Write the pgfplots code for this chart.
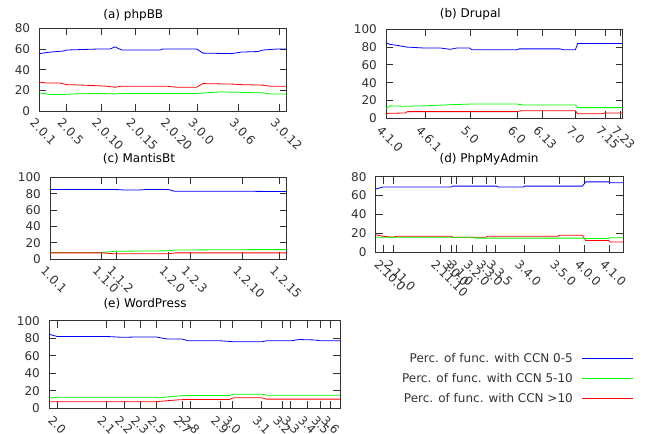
\documentclass[border=0pt]{standalone}
\usepackage{fontspec}
\setmainfont{DejaVu Sans}
\usepackage{pgfplots}
\pgfplotsset{compat=1.18}
\definecolor{axgray}{RGB}{50,50,50}
\definecolor{pblue}{RGB}{0,0,255}
\definecolor{pgreen}{RGB}{0,255,0}
\definecolor{pred}{RGB}{255,0,0}
\pgfplotsset{
  panel/.style={
    scale only axis,
    axis line style={axgray, line width=0.9pt},
    tick style={axgray, line width=0.8pt},
    tick align=inside,
    major tick length=7pt,
    ymin=0,
    xticklabel style={rotate=-45, anchor=north west, xshift=-2pt, yshift=-3pt, text=axgray},
    yticklabel style={xshift=-5pt, text=axgray},
    /pgf/number format/assume math mode=true,
    every axis plot/.append style={line width=0.8pt, mark=none},
    title style={anchor=base, text=black},
  }
}
\begin{document}
\fontsize{12}{14}\selectfont
\begin{tikzpicture}[x=1pt,y=1pt]
\useasboundingbox (0,0) rectangle (651,434);

% (a) phpBB
\begin{axis}[panel, at={(39.3pt,323pt)}, anchor=south west, width=247.4pt, height=82.7pt,
  xmin=0, xmax=36, ymax=80, ytick={0,20,40,60,80},
  xtick={0,4,9,14,19,23,29,35},
  xticklabels={2.0.1,2.0.5,2.0.10,2.0.15,2.0.20,3.0.0,3.0.6,3.0.12},
  title={(a) phpBB}, title style={at={(0.38,1)}, yshift=4pt}]
\addplot[pblue] coordinates {(0,55.5)(1.6,57)(3.5,58)(4,59)(8.8,60)(10.3,60)(11,62)(12,59)(17.6,59)(18,60)(22.9,60)(23.8,56)(28,55.5)(29.4,57)(31.8,57.5)(32.6,59)(34.7,60)(36,60)};
\addplot[pred] coordinates {(0,28)(1.1,27)(3,27)(4,25.5)(6.4,25)(9.8,24)(11,23)(12,24)(18.5,24)(20,23)(22.9,23)(23.8,26.5)(28.2,26)(29.4,25.5)(32.6,25)(33.6,24)(36,24)};
\addplot[pgreen] coordinates {(0,17.5)(1.6,16)(3.5,16)(5,16.5)(8.8,17)(11,16.5)(12,17)(23,17)(25.3,18)(26.3,18.5)(29.4,18)(32.6,17.5)(33.6,16.5)(36,16.5)};
\end{axis}

% (b) Drupal
\begin{axis}[panel, at={(386pt,315.7pt)}, anchor=south west, width=236.7pt, height=89pt,
  xmin=0, xmax=121, ymax=100, ytick={0,20,40,60,80,100},
  xtick={0,20,43,67,80,97,112,120},
  xticklabels={4.1.0,4.6.1,5.0,6.0,6.13,7.0,7.15,7.23},
  title={(b) Drupal}, title style={at={(0.356,1)}, yshift=6pt}]
\addplot[pblue] coordinates {(0,85)(2,83)(5.5,82)(10.6,80)(19.2,79)(27.7,79)(32.8,77.5)(36.3,79)(42.7,79)(43.9,77)(67,77)(68,78)(89,78)(90.8,77)(96.8,77)(98,84)(121,84)};
\addplot[pgreen] coordinates {(0,11)(2,14)(10,13.5)(20,14)(30,15)(43,16)(67,16)(70,15)(96.8,15)(98,12)(121,12)};
\addplot[pred] coordinates {(0,5.5)(10,6)(11,7.5)(43,7.5)(67,7.5)(69,8.5)(96.8,8.5)(98,5)(110,5)(112,6)(121,6)};
\end{axis}

% (c) MantisBt
\begin{axis}[panel, at={(50pt,175pt)}, anchor=south west, width=236.7pt, height=81.7pt,
  xmin=0, xmax=32, ymax=100, ytick={0,20,40,60,80,100},
  xtick={0,7,9,16,19,26,31},
  xticklabels={1.0.1,1.1.0,1.1.2,1.2.0,1.2.3,1.2.10,1.2.15},
  title={(c) MantisBt}, title style={at={(0.376,1)}, yshift=9pt}]
\addplot[pblue] coordinates {(0,85)(9,85)(10,84.5)(12,84.5)(13,85)(16,85)(16.8,83)(25,83)(32,82.5)};
\addplot[pgreen] coordinates {(0,8)(7,8)(9,9.5)(16,10)(17,11)(28,11.5)(32,11.5)};
\addplot[pred] coordinates {(0,7.5)(7,7.5)(8.5,6.5)(16,6.5)(17,7.5)(32,7.5)};
\end{axis}

% (d) PhpMyAdmin
\begin{axis}[panel, at={(375.7pt,181.7pt)}, anchor=south west, width=247.6pt, height=75.6pt,
  xmin=0, xmax=70.7, ymax=80, ytick={0,20,40,60,80},
  xtick={2.2,5,18.4,21.7,23.1,27.7,31.5,34.3,42.4,52.4,59.5,66.7},
  xticklabels={2.10.0,2.11.0,2.11.10,3.0.0,3.1.0,3.2.0,3.3.0,3.3.5,3.4.0,3.5.0,4.0.0,4.1.0},
  title={(d) PhpMyAdmin}, title style={at={(0.458,1)}, yshift=8.4pt}]
\addplot[pblue] coordinates {(0,67)(2,69)(21.5,69)(22,70)(34.5,70)(35,69)(42,69)(42.5,70)(59,70)(60,74.5)(66.5,74.5)(67,73.5)(70.7,73.5)};
\addplot[pred] coordinates {(0,18.5)(2,17)(5,16)(6,17)(21.5,17)(22,16)(31.5,16)(32,17)(52,17)(52.5,18)(59,18)(60,12.5)(66.5,12.5)(67,11)(70.7,11)};
\addplot[pgreen] coordinates {(0,16)(28,16)(28.5,15)(59,15)(60,14.5)(66.5,14.5)(67,15.5)(70.7,15.5)};
\end{axis}

% (e) WordPress
\begin{axis}[panel, at={(49pt,25.7pt)}, anchor=south west, width=291pt, height=87.6pt,
  xmin=0, xmax=71, ymax=100, ytick={0,20,40,60,80,100},
  xtick={2,14,18.3,22.2,26.3,32.6,34.6,41.7,44.7,51.9,56.9,59,63,66.3,68.7},
  xticklabels={2.0,2.1,2.2,2.3,2.5,2.7,2.8,2.9,3.0,3.1,3.2,3.3,3.4,3.5,3.6},
  title={(e) WordPress}, title style={at={(0.33,1)}, yshift=6.7pt},
  legend style={draw=none, fill=none, at={(2.02,0.677)}, anchor=north east, row sep=5pt, column sep=7pt, text=axgray},
  legend cell align=right, legend plot pos=right,
  legend image code/.code={\draw[#1] (0pt,0pt) -- (51pt,0pt);}]
\addplot[pblue] coordinates {(0,84.5)(2,82)(14,82)(18,81)(22,81.5)(26,81.5)(29,79)(32.5,79)(34,77)(42,77)(45,76)(52,76)(53,77)(59,77)(61,78.5)(65,78)(66,77)(71,77)};
\addlegendentry{Perc. of func. with CCN 0-5}
\addplot[pgreen] coordinates {(0,11.5)(2,12.5)(26,12.5)(27,12)(30,13.5)(33,14.5)(44,14.5)(45,16)(52,16)(53,15)(71,15)};
\addlegendentry{Perc. of func. with CCN 5-10}
\addplot[pred] coordinates {(0,7.5)(26,7.5)(31,9.5)(33,10)(44,10)(45,12)(52,12)(53,10.5)(71,10.5)};
\addlegendentry{Perc. of func. with CCN >10}
\end{axis}
\end{tikzpicture}
\end{document}
